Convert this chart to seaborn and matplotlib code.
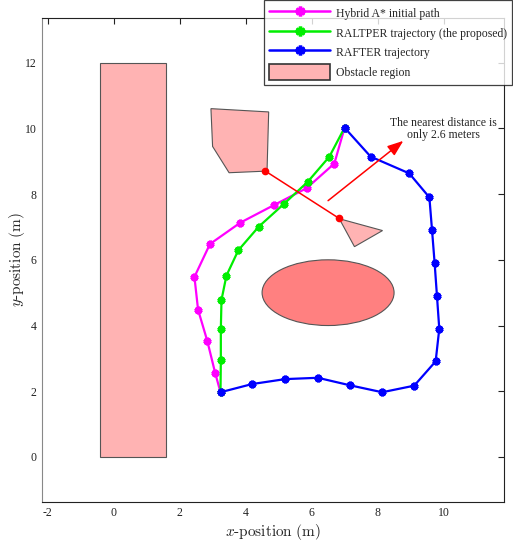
import numpy as np
import pandas as pd
import matplotlib
matplotlib.use("Agg")
import matplotlib.pyplot as plt
import seaborn as sns
from matplotlib.patches import Rectangle, Polygon, Ellipse, Patch
from matplotlib.lines import Line2D

# ---- data ----
hybrid_x = [7.0, 6.69, 5.85, 4.85, 3.84, 2.92, 2.45, 2.56, 2.84, 3.08, 3.24]
hybrid_y = [10.02, 8.93, 8.18, 7.66, 7.13, 6.48, 5.48, 4.48, 3.53, 2.55, 1.97]
raltper_x = [7.0, 6.54, 5.88, 5.15, 4.40, 3.78, 3.42, 3.27, 3.25, 3.25, 3.24]
raltper_y = [10.02, 9.14, 8.37, 7.69, 7.01, 6.29, 5.52, 4.78, 3.90, 2.95, 1.97]
rafter_x = [7.0, 7.79, 8.96, 9.57, 9.65, 9.73, 9.80, 9.87, 9.76, 9.11, 8.14, 7.17, 6.19, 5.20, 4.20, 3.24]
rafter_y = [10.02, 9.14, 8.63, 7.90, 6.91, 5.89, 4.90, 3.90, 2.91, 2.17, 1.97, 2.18, 2.41, 2.37, 2.22, 1.97]

rect_xy = (-0.4, 0.0)
rect_w, rect_h = 2.0, 12.0
poly1 = [(2.95, 10.6), (4.7, 10.5), (4.65, 8.7), (3.5, 8.65), (3.0, 9.45)]
tri = [(6.84, 7.25), (8.15, 6.89), (7.3, 6.4)]
ell_center = (6.5, 5.0)
ell_w, ell_h = 4.0, 2.0
near_x = [4.6, 6.82]
near_y = [8.70, 7.27]
arrow_start = (6.5, 7.8)
arrow_end = (8.78, 9.62)

series_labels = ["Hybrid A* initial path", "RALTPER trajectory (the proposed)", "RAFTER trajectory"]
obstacle_label = "Obstacle region"
note_text = "The nearest distance is\nonly 2.6 meters"

# ---- style ----
sns.set_theme(style="white")
plt.rcParams['font.family'] = ['Liberation Serif', 'DejaVu Serif']
plt.rcParams['mathtext.fontset'] = 'cm'
plt.rcParams['axes.unicode_minus'] = False

fig = plt.figure(figsize=(5.13, 5.44), dpi=100)
ax = fig.add_axes([0.0825, 0.0778, 0.9005, 0.8886])

obst_fc = '#ffb3b3'
obst_ec = '#555555'
ax.add_patch(Rectangle(rect_xy, rect_w, rect_h, facecolor=obst_fc, edgecolor=obst_ec, lw=0.8, zorder=1))
ax.add_patch(Polygon(poly1, closed=True, facecolor=obst_fc, edgecolor=obst_ec, lw=0.8, zorder=1))
ax.add_patch(Polygon(tri, closed=True, facecolor=obst_fc, edgecolor=obst_ec, lw=0.8, zorder=1))
ax.add_patch(Ellipse(ell_center, ell_w, ell_h, facecolor='#ff8080', edgecolor=obst_ec, lw=0.8, zorder=1))

colors = ['#ff00ff', '#00ee00', '#0000ff']
mk = (6, 2, 0)
series = [(hybrid_x, hybrid_y), (raltper_x, raltper_y), (rafter_x, rafter_y)]
for (xs, ys), c, lab in zip(series, colors, series_labels):
    df = pd.DataFrame({'x': xs, 'y': ys})
    sns.lineplot(data=df, x='x', y='y', sort=False, estimator=None, ax=ax,
                 color=c, linewidth=1.6, marker=mk, markersize=5.5,
                 markeredgewidth=2.3, markeredgecolor=c, markerfacecolor=c,
                 zorder=3, legend=False)

ax.plot(near_x, near_y, color='#ff0000', lw=1.1, marker='o', markersize=4.5, zorder=4)
ax.annotate('', xy=arrow_end, xytext=arrow_start,
            arrowprops=dict(arrowstyle='-|>,head_length=0.8,head_width=0.3', color='#ff0000', lw=1.1,
                            shrinkA=0, shrinkB=0), zorder=4)
ax.text(10.0, 9.98, note_text, ha='center', va='center', fontsize=8.5, linespacing=1.1)

ax.set_xlim(-2.16, 11.84)
ax.set_ylim(-1.36, 13.35)
ax.set_xticks([-2, 0, 2, 4, 6, 8, 10])
ax.set_yticks([0, 2, 4, 6, 8, 10, 12])
ax.tick_params(direction='in', length=4, width=0.8, top=True, right=True,
               labelsize=8.5, colors='#222222', pad=4)
for s in ax.spines.values():
    s.set_color('#222222')
    s.set_linewidth(0.8)
ax.spines['left'].set_color('#888888')
ax.set_xlabel(r'$x\mathrm{\text{-}position\ (m)}$', fontsize=11, labelpad=2)
ax.set_ylabel(r'$y\mathrm{\text{-}position\ (m)}$', fontsize=11)
ax.yaxis.set_label_coords(-0.034, 0.5)
ax.grid(False)

handles = [Line2D([], [], color=c, lw=1.8, marker=mk, markersize=7, markeredgewidth=2.5,
                  markeredgecolor=c, markerfacecolor=c) for c in colors]
handles.append(Patch(facecolor=obst_fc, edgecolor='#333333', lw=1.2))
leg = fig.legend(handles, series_labels + [obstacle_label], loc='upper right',
                 bbox_to_anchor=(0.999, 1.0), fontsize=8.5, frameon=True, fancybox=False,
                 edgecolor='#111111', handlelength=5.2, handleheight=1.7, labelspacing=0.3,
                 handletextpad=0.5, borderpad=0.45, borderaxespad=0.0)
leg.get_frame().set_linewidth(0.9)

fig.savefig('out.png', dpi=100)
